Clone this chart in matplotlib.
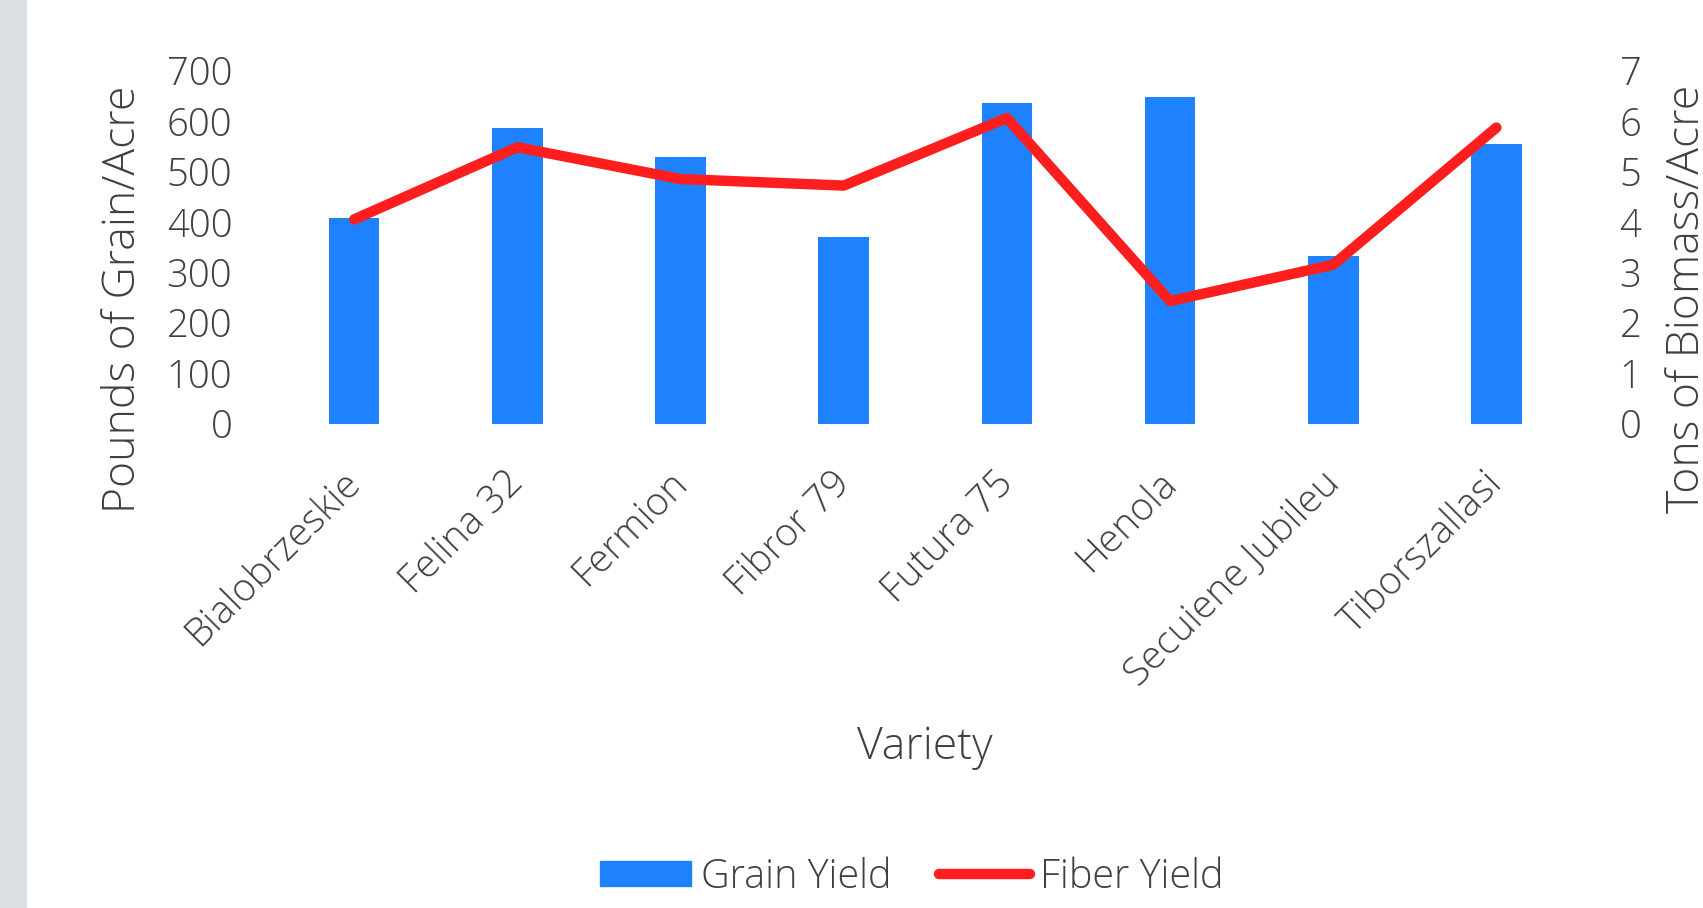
import matplotlib
matplotlib.use("Agg")
import matplotlib.pyplot as plt
import matplotlib.patches as mpatches
import matplotlib.transforms as mtransforms

varieties = ["Bialobrzeskie", "Felina 32", "Fermion", "Fibror 79",
             "Futura 75", "Henola", "Secuiene Jubileu", "Tiborszallasi"]
grain_yield = [407, 586, 528, 371, 636, 647, 332, 554]
fiber_yield = [4.05, 5.48, 4.85, 4.72, 6.06, 2.43, 3.15, 5.87]
left_ticks = [0, 100, 200, 300, 400, 500, 600, 700]
right_ticks = [0, 1, 2, 3, 4, 5, 6, 7]

plt.rcParams['font.family'] = ['Open Sans', 'DejaVu Sans']
TXT = '#404040'
BLUE = '#1E82FF'
RED = '#FF1E1E'

W, H = 1703, 908
fig = plt.figure(figsize=(W / 100, H / 100), dpi=100)
fig.patch.set_facecolor('white')
fig.patches.append(mpatches.Rectangle((0, 0), 27 / W, 1, transform=fig.transFigure,
                                      facecolor='#d9dfe2', edgecolor='none', zorder=0))

x0, x1 = 272.6, 1578.0
y0, y1 = 70.6, 423.6
ax = fig.add_axes([x0 / W, 1 - y1 / H, (x1 - x0) / W, (y1 - y0) / H])
ax2 = ax.twinx()

pos = list(range(len(varieties)))
ax.bar(pos, grain_yield, width=0.31, color=BLUE, zorder=2)
ax2.plot(pos, fiber_yield, color=RED, lw=7.5, solid_capstyle='round',
         solid_joinstyle='round', zorder=3)

ax.set_xlim(-0.5, len(varieties) - 0.5)
ax.set_ylim(0, 700)
ax2.set_ylim(0, 7)
ax.set_yticks(left_ticks)
ax2.set_yticks(right_ticks)
ax.set_yticklabels([str(v) for v in left_ticks], fontsize=27.5, color=TXT, fontweight='light')
ax2.set_yticklabels([str(v) for v in right_ticks], fontsize=27.5, color=TXT, fontweight='light')
ax.tick_params(axis='y', length=0, pad=29)
ax2.tick_params(axis='y', length=0, pad=30)

ax.set_xticks(pos)
ax.set_xticklabels(varieties, rotation=45, ha='right', va='top', rotation_mode='anchor',
                   fontsize=28, color=TXT, fontweight='light')
ax.tick_params(axis='x', length=0, pad=29)
shift = mtransforms.ScaledTranslation(-13 / 100, 0, fig.dpi_scale_trans)
for lbl in ax.get_xticklabels():
    lbl.set_transform(lbl.get_transform() + shift)

for a in (ax, ax2):
    for s in a.spines.values():
        s.set_visible(False)
ax2.set_zorder(ax.get_zorder() + 1)
ax.patch.set_visible(False)
ax2.patch.set_visible(False)

fig.text(124 / W, 1 - 299 / H, "Pounds of Grain/Acre", rotation=90, ha='center', va='center',
         fontsize=32, color=TXT, fontweight='light')
fig.text(1688 / W, 1 - 299 / H, "Tons of Biomass/Acre", rotation=90, ha='center', va='center',
         fontsize=32, color=TXT, fontweight='light')
fig.text(925 / W, 1 - 748 / H, "Variety", ha='center', va='center',
         fontsize=32, color=TXT, fontweight='light')

handles = [mpatches.Patch(color=BLUE, label='Grain Yield'),
           plt.Line2D([], [], color=RED, lw=7.5, solid_capstyle='round', label='Fiber Yield')]
leg = fig.legend(handles=handles, loc='center', bbox_to_anchor=(912 / W, 1 - 877 / H),
                 ncol=2, frameon=False, fontsize=28.5, handlelength=2.3, handleheight=0.62,
                 handletextpad=0.25, columnspacing=1.2)
for t in leg.get_texts():
    t.set_color(TXT)
    t.set_fontweight('light')

fig.savefig('out.png', dpi=100)
